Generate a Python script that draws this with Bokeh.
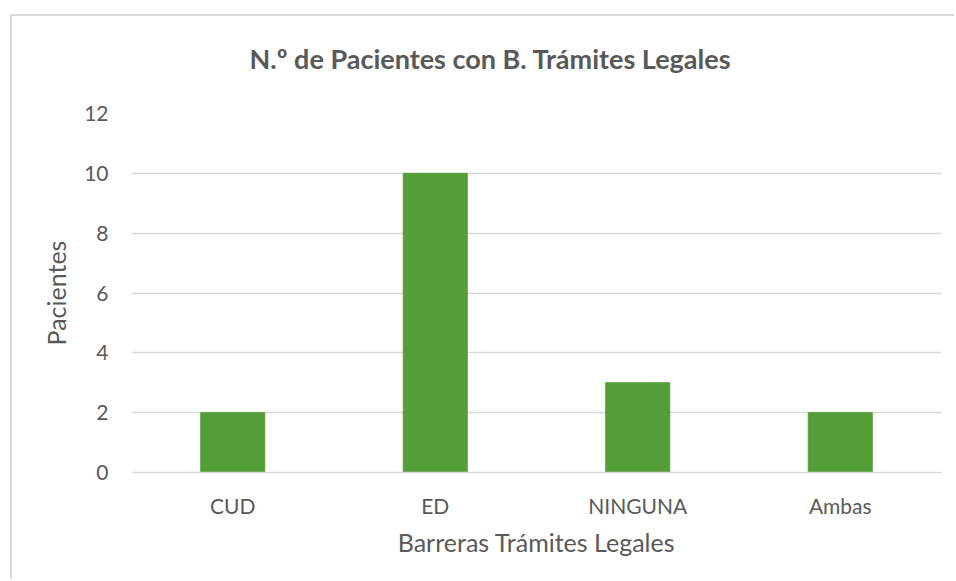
from bokeh.plotting import figure
from bokeh.models import Range1d, FactorRange, ColumnDataSource, FixedTicker, Title
from bokeh.embed import file_html
from bokeh.resources import INLINE

# ---- data ----
categories = ["CUD", "ED", "NINGUNA", "Ambas"]
pacientes = [2, 10, 3, 2]
y_ticks = [0, 2, 4, 6, 8, 10, 12]
title_text = "N.º de Pacientes con B. Trámites Legales"
x_title = "Barreras Trámites Legales"
y_title = "Pacientes"

FONT = "Lato"
TXT = "#595959"
GRID = "#D9D9D9"

source = ColumnDataSource(data=dict(cat=categories, val=pacientes))

p = figure(
    x_range=FactorRange(*categories),
    y_range=Range1d(0, 12),
    width=944, height=565,
    output_backend="svg", toolbar_location=None,
    min_border_left=119, min_border_right=15,
    min_border_top=97, min_border_bottom=109,
)
p.margin = (16, 0, 0, 12)
p.styles = {"box-shadow": "-2px -2px 0 0 #D9D9D9"}

# spacer between plot area and title (nearest the frame), then the title
p.add_layout(Title(text=" ", text_font_size="1px", standoff=31), "above")
p.add_layout(Title(text=title_text, align="left", offset=118, standoff=10,
                   text_font=FONT, text_font_style="bold",
                   text_font_size="27px", text_color=TXT), "above")

p.vbar(x="cat", top="val", width=0.316, source=source,
       fill_color="#549E39", line_color="#549E39")

p.outline_line_color = None
p.xgrid.grid_line_color = None
p.ygrid.grid_line_color = GRID
p.ygrid.grid_line_width = 1.3
p.yaxis.ticker = FixedTicker(ticks=y_ticks)

for ax in (p.xaxis[0], p.yaxis[0]):
    ax.major_tick_line_color = None
    ax.minor_tick_line_color = None
    ax.major_tick_in = 0
    ax.major_tick_out = 0
    ax.major_label_text_font = FONT
    ax.major_label_text_color = TXT
    ax.major_label_text_font_size = "21px"
    ax.axis_label_text_font = FONT
    ax.axis_label_text_color = TXT
    ax.axis_label_text_font_size = "25px"
    ax.axis_label_text_font_style = "normal"

p.yaxis.axis_line_color = None
p.xaxis.axis_line_color = GRID
p.xaxis.axis_line_width = 1.3
p.yaxis.axis_label = y_title
p.xaxis.axis_label = x_title
p.yaxis.major_label_standoff = 23
p.yaxis.axis_label_standoff = 10
p.xaxis.major_label_standoff = 20
p.xaxis.axis_label_standoff = 6

open("out.html", "w").write(file_html(p, INLINE))
